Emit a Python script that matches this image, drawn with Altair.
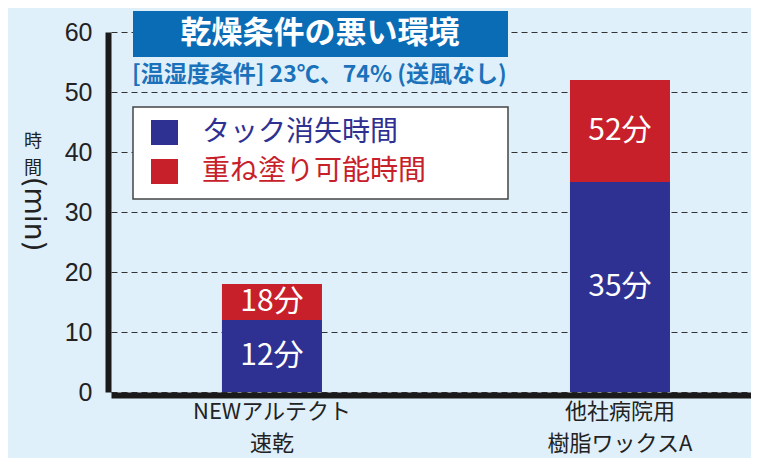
import altair as alt
import pandas as pd

categories = ["NEWアルテクト\n速乾", "他社病院用\n樹脂ワックスA"]
tack_free = [12, 35]          # タック消失時間 (min)
recoat = [18, 52]             # 重ね塗り可能時間 (min)
series = ["タック消失時間", "重ね塗り可能時間"]
series_colors = ["#2e3192", "#c8202a"]
y_ticks = [0, 10, 20, 30, 40, 50, 60]
title_text = "乾燥条件の悪い環境"
subtitle_text = "[温湿度条件] 23℃、74% (送風なし)"
y_title_upright = "時\n間"
y_title_rotated = "(min)"

rows = []
for c, a, b in zip(categories, tack_free, recoat):
    rows.append({"cat": c, "seg": series[0], "y0": 0, "y1": a, "label": f"{a}分"})
    rows.append({"cat": c, "seg": series[1], "y0": a, "y1": b, "label": f"{b}分"})
df = pd.DataFrame(rows)

JP = "Noto Sans CJK JP"
BG = "#dff0fa"

xscale = alt.Scale(domain=categories, paddingInner=0.7126, paddingOuter=0.2758, align=0.578)
yscale = alt.Scale(domain=[0, 60], nice=False)
cscale = alt.Scale(domain=series, range=series_colors)

bars = alt.Chart(df).mark_bar().encode(
    x=alt.X("cat:N", scale=xscale, sort=categories, title=None,
            axis=alt.Axis(labelExpr="split(datum.label, '\\n')", labelAngle=0, labelLimit=0,
                          labelFont=JP, labelFontSize=22, labelLineHeight=32,
                          labelColor="#222222", labelPadding=6, ticks=False, tickSize=0,
                          domainColor="#1a1a1a", domainWidth=6, offset=3, grid=False)),
    y=alt.Y("y1:Q", scale=yscale, title=None,
            axis=alt.Axis(values=y_ticks, labelFont="Liberation Sans", labelFontSize=25,
                          labelColor="#222222", labelPadding=16, ticks=False, tickSize=0,
                          domainColor="#1a1a1a", domainWidth=6, offset=3,
                          grid=True, gridColor="#333333", gridWidth=1.2, gridDash=[6, 4])),
    y2="y0:Q",
    color=alt.Color("seg:N", scale=cscale, legend=None),
)

labels = alt.Chart(df).transform_calculate(
    ym="(datum.y0 + datum.y1) / 2"
).mark_text(font=JP, fontSize=30, color="white", baseline="middle", align="center").encode(
    x=alt.X("cat:N", scale=xscale, sort=categories),
    y=alt.Y("ym:Q", scale=yscale),
    text="label:N",
)

one = pd.DataFrame({"k": [0]})

title_box = alt.Chart(one).mark_rect(color="#0b6cb6").encode(
    x=alt.value(22), x2=alt.value(397), y=alt.value(-21), y2=alt.value(25))
title_mark = alt.Chart(pd.DataFrame({"t": [title_text]})).mark_text(
    font=JP, fontSize=31, fontWeight="bold", color="white", align="center", baseline="middle"
).encode(x=alt.value(209), y=alt.value(2), text="t:N")
subtitle_mark = alt.Chart(pd.DataFrame({"t": [subtitle_text]})).mark_text(
    font=JP, fontSize=23, fontWeight="bold", color="#1b72bb", align="left", baseline="middle"
).encode(x=alt.value(21), y=alt.value(43), text="t:N")

legend_box = alt.Chart(one).mark_rect(fill="white", stroke="#444444", strokeWidth=1.5).encode(
    x=alt.value(22), x2=alt.value(397), y=alt.value(75), y2=alt.value(167))
leg_df = pd.DataFrame({"seg": series, "i": [0, 1]})
leg_sq = alt.Chart(leg_df).transform_calculate(
    yt="88 + datum.i * 39", yb="113 + datum.i * 39"
).mark_rect().encode(
    x=alt.value(40), x2=alt.value(67),
    y=alt.Y("yt:Q", scale=None), y2=alt.Y2("yb:Q"),
    color=alt.Color("seg:N", scale=cscale, legend=None),
)
leg_txt = alt.Chart(leg_df).transform_calculate(
    yc="101 + datum.i * 39"
).mark_text(font=JP, fontSize=28, align="left", baseline="middle").encode(
    x=alt.value(91), y=alt.Y("yc:Q", scale=None), text="seg:N",
    color=alt.Color("seg:N", scale=cscale, legend=None),
)

ytitle_a = alt.Chart(pd.DataFrame({"t": [y_title_upright]})).mark_text(
    font=JP, fontSize=18, lineHeight=27, lineBreak="\n", color="#222222",
    align="center", baseline="middle"
).encode(x=alt.value(-78), y=alt.value(110), text="t:N")
ytitle_b = alt.Chart(pd.DataFrame({"t": [y_title_rotated]})).mark_text(
    font="DejaVu Sans", fontSize=28, color="#222222", align="center", baseline="middle", angle=90
).encode(x=alt.value(-78), y=alt.value(182), text="t:N")

chart = alt.layer(
    bars, labels, title_box, title_mark, subtitle_mark, legend_box, leg_sq, leg_txt,
    ytitle_a, ytitle_b
).resolve_scale(color="shared").properties(
    width=640, height=360,
    autosize=alt.AutoSizeParams(type="none"),
    padding={"left": 103, "top": 24, "right": 0, "bottom": 66},
).configure(background=BG).configure_view(stroke=None)

chart.save("out.html", embed_options={"renderer": "svg", "actions": False})
